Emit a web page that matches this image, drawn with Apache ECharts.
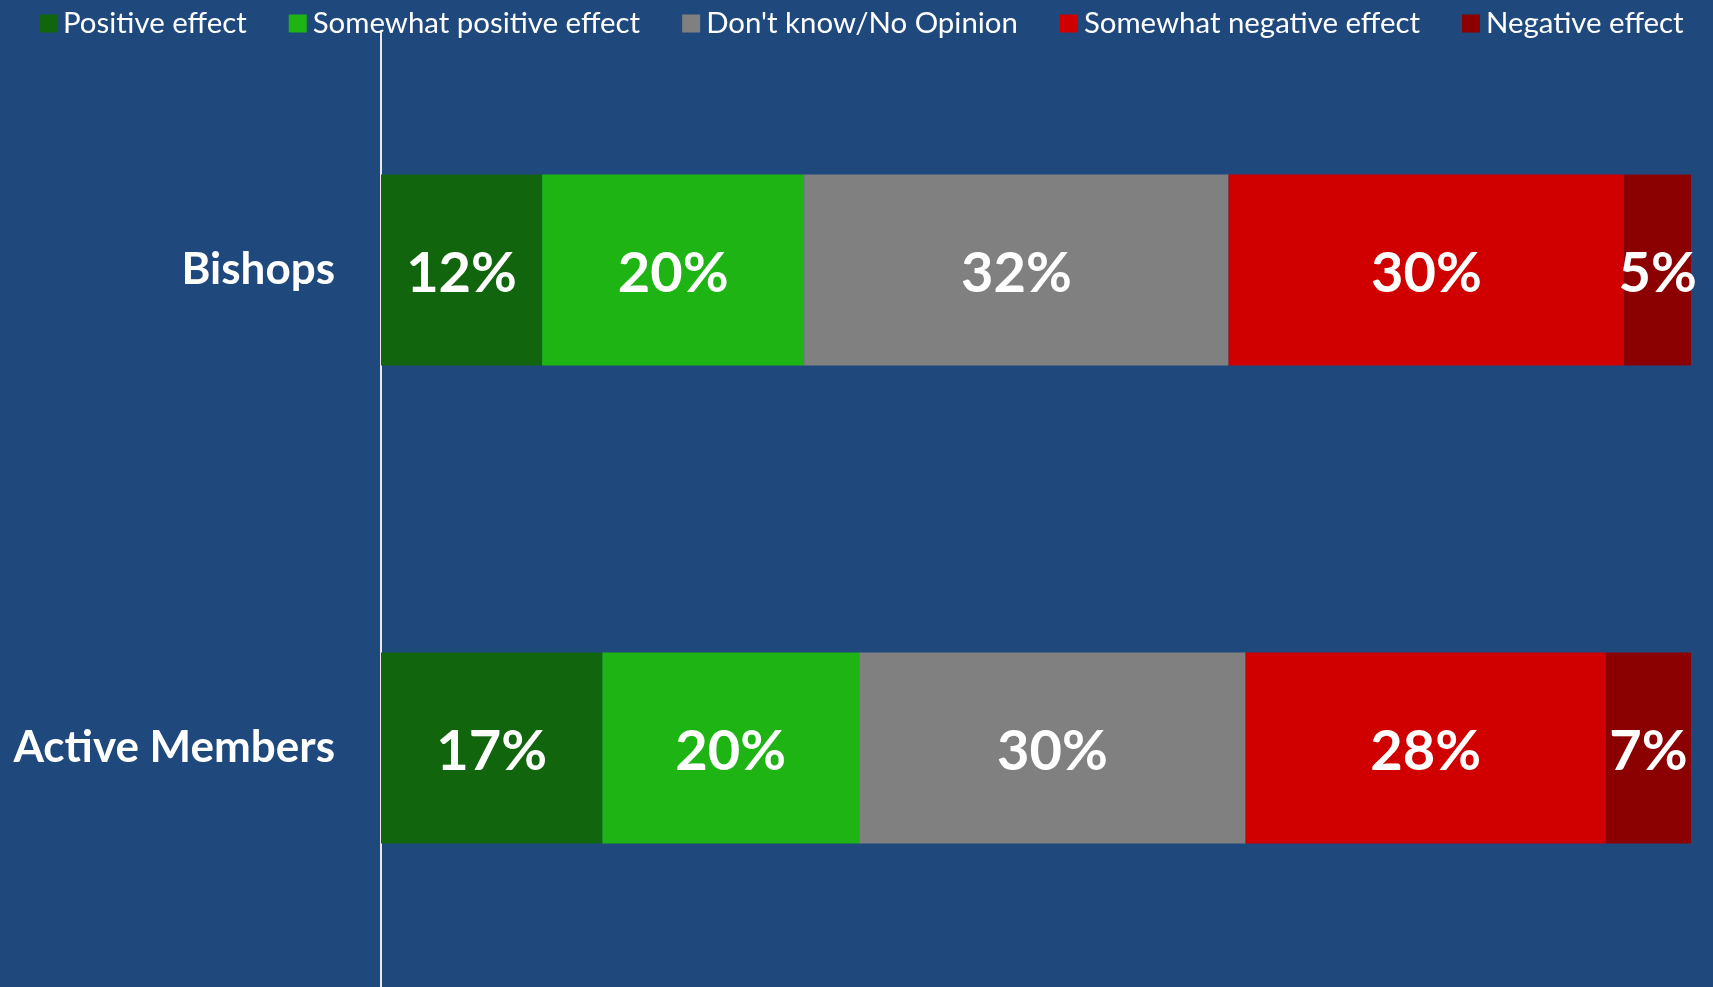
<!DOCTYPE html>
<html>
<head>
<meta charset="utf-8">
<script src="https://cdn.jsdelivr.net/npm/echarts@6/dist/echarts.min.js"></script>
<style>
  html, body { margin: 0; padding: 0; background: #1F497D; }
  #main { width: 1713px; height: 987px; }
</style>
</head>
<body>
<div id="main"></div>
<script>
// categories, top to bottom
const groups = ['Bishops', 'Active Members'];

// share of answers per group (bar widths), labels are the rounded values
const positive = [12.3, 16.9];
const somewhatPositive = [20.0, 19.6];
const dontKnow = [32.4, 29.5];
const somewhatNegative = [30.2, 27.5];
const negative = [5.1, 6.5];

const seriesNames = ['Positive effect', 'Somewhat positive effect', "Don't know/No Opinion", 'Somewhat negative effect', 'Negative effect'];
const seriesData = [positive, somewhatPositive, dontKnow, somewhatNegative, negative];
const colors = ['#11650C', '#1EB414', '#808080', '#D10000', '#8B0000'];

const myChart = echarts.init(document.getElementById('main'));

myChart.setOption({
  backgroundColor: '#1F497D',
  animation: false,
  textStyle: { fontFamily: 'Lato' },
  legend: {
    top: 4,
    left: 34,
    itemWidth: 18,
    itemHeight: 18,
    itemGap: 42,
    icon: 'rect',
    textStyle: {
      color: '#ffffff',
      fontSize: 29.4,
      fontFamily: 'Lato',
      padding: [0, 0, 0, 1]
    },
    data: seriesNames
  },
  grid: {
    left: 381,
    right: 22,
    top: 31,
    bottom: 0,
    containLabel: false
  },
  xAxis: {
    type: 'value',
    min: 0,
    max: 100,
    show: false
  },
  yAxis: {
    type: 'category',
    inverse: true,
    data: groups,
    axisLine: { show: true, lineStyle: { color: '#e8e8e8', width: 2 } },
    axisTick: { show: false },
    axisLabel: {
      color: '#ffffff',
      fontSize: 44,
      fontWeight: 'bold',
      fontFamily: 'Lato',
      margin: 46
    }
  },
  series: seriesNames.map(function (name, i) {
    return {
      name: name,
      type: 'bar',
      stack: 'total',
      barWidth: '40%',
      itemStyle: { color: colors[i] },
      label: {
        show: true,
        position: 'inside',
        offset: [0, 4],
        color: '#ffffff',
        fontSize: 56,
        fontWeight: 'bold',
        fontFamily: 'Lato',
        formatter: function (p) { return Math.round(p.value) + '%'; }
      },
      data: seriesData[i]
    };
  })
});
</script>
</body>
</html>
